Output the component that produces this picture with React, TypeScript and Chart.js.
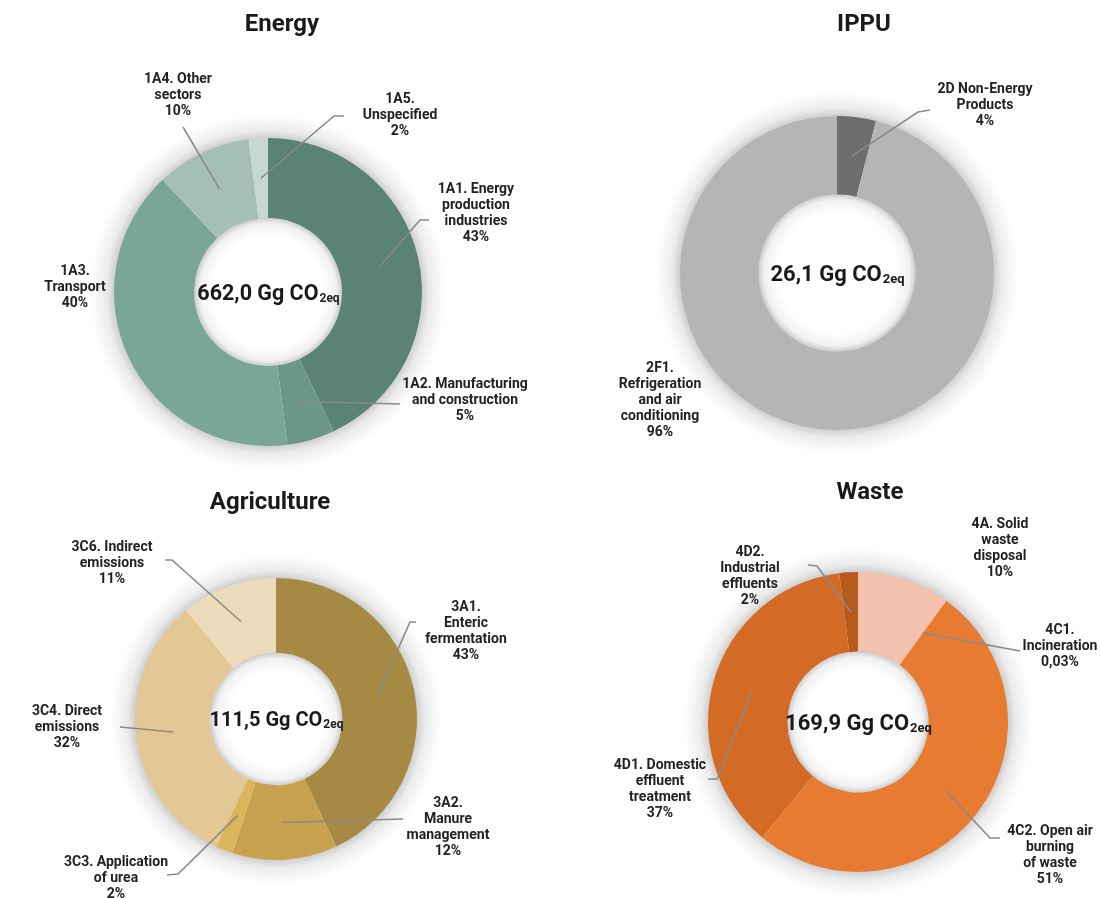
import React, { useEffect, useRef } from "react";
import { Chart, registerables } from "chart.js";
Chart.register(...registerables);

// ---------------- data ----------------
const energyCategories = ["1A1. Energy production industries", "1A2. Manufacturing and construction", "1A3. Transport", "1A4. Other sectors", "1A5. Unspecified"];
const energyValues = [43, 5, 40, 10, 2];
const energyTotal = 662.0;

const ippuCategories = ["2D Non-Energy Products", "2F1. Refrigeration and air conditioning"];
const ippuValues = [4, 96];
const ippuTotal = 26.1;

const agriCategories = ["3A1. Enteric fermentation", "3A2. Manure management", "3C3. Application of urea", "3C4. Direct emissions", "3C6. Indirect emissions"];
const agriValues = [43, 12, 2, 32, 11];
const agriTotal = 111.5;

const wasteCategories = ["4A. Solid waste disposal", "4C1. Incineration", "4C2. Open air burning of waste", "4D1. Domestic effluent treatment", "4D2. Industrial effluents"];
const wasteValues = [10, 0.03, 51, 37, 2];
const wasteTotal = 169.9;

// ---------------- presentation ----------------
const energyLines = [["1A1. Energy", "production", "industries"], ["1A2. Manufacturing", "and construction"], ["1A3.", "Transport"], ["1A4. Other", "sectors"], ["1A5.", "Unspecified"]];
const ippuLines = [["2D Non-Energy", "Products"], ["2F1.", "Refrigeration", "and air", "conditioning"]];
const agriLines = [["3A1.", "Enteric", "fermentation"], ["3A2.", "Manure", "management"], ["3C3. Application", "of urea"], ["3C4. Direct", "emissions"], ["3C6. Indirect", "emissions"]];
const wasteLines = [["4A. Solid", "waste", "disposal"], ["4C1.", "Incineration"], ["4C2. Open air", "burning", "of waste"], ["4D1. Domestic", "effluent", "treatment"], ["4D2.", "Industrial", "effluents"]];

const energyStyle = {
  title: "Energy", titleX: 282, titleY: 25, centerFont: 21.5,
  cx: 268, cy: 292, r: 154, cutout: "48%",
  colors: ["#5b8277", "#6b978a", "#79a698", "#a5bfb7", "#c6d8d2"],
  labelPos: [[476, 189], [465, 384], [75, 271], [178, 79], [400, 99]],
  leaders: [[[420, 220], [429, 220]], [[400, 404]], null, [[183, 127]], [[334, 116], [344, 116]]],
};
const ippuStyle = {
  title: "IPPU", titleX: 864, titleY: 25, centerFont: 22,
  cx: 837, cy: 273, r: 157, cutout: "50%",
  colors: ["#6d6d6d", "#b5b5b5"],
  labelPos: [[985, 89], [660, 368]],
  leaders: [[[918, 112], [930, 110]], null],
};
const agriStyle = {
  title: "Agriculture", titleX: 270, titleY: 503, centerFont: 20,
  cx: 276, cy: 719, r: 141, cutout: "47%",
  colors: ["#a68a44", "#c8a14f", "#d9b65a", "#e3c794", "#eddcbc"],
  labelPos: [[466, 607], [448, 803], [116, 862], [67, 711], [112, 547]],
  leaders: [[[410, 622], [416, 622]], [[403, 819]], [[178, 874], [167, 875]], [[120, 727]], [[172, 560], [165, 560]]],
};
const wasteStyle = {
  title: "Waste", titleX: 870, titleY: 493, centerFont: 22,
  cx: 858, cy: 722, r: 150, cutout: "47%",
  colors: ["#f3c2af", "#e57b35", "#e77b32", "#d46b25", "#b65a1d"],
  labelPos: [[1000, 524], [1060, 630], [1050, 831], [660, 765], [750, 552]],
  leaders: [null, [[1020, 651]], [[990, 838], [1000, 838]], [[717, 779], [708, 779]], [[817, 566], [808, 565]]],
};

const W = 1100;
const H = 898;
const FONT = "Roboto, 'Noto Sans', sans-serif";
const LINE_H = 16;
const TEXT_SY = 1.1;

const fmtPct = (v: number) => String(v).replace(".", ",") + "%";
const fmtTotal = (v: number) => v.toFixed(1).replace(".", ",");

function stretchedText(ctx: any, t: string, x: number, y: number) {
  ctx.save();
  ctx.translate(x, y);
  ctx.scale(1, TEXT_SY);
  ctx.fillText(t, 0, 0);
  ctx.restore();
}

function makeDeco(st: any, lines: string[][], values: number[], total: number) {
  return {
    id: "deco",
    beforeDatasetsDraw(chart: any) {
      const ctx = chart.ctx;
      const arc = chart.getDatasetMeta(0).data[0];
      const { x, y, outerRadius } = arc.getProps(["x", "y", "outerRadius"], true);
      const halo = 24;
      ctx.save();
      const g = ctx.createRadialGradient(x, y, outerRadius - 1, x, y, outerRadius + halo);
      g.addColorStop(0, "rgba(0,0,0,0.2)");
      g.addColorStop(0.35, "rgba(0,0,0,0.08)");
      g.addColorStop(1, "rgba(0,0,0,0)");
      ctx.beginPath();
      ctx.arc(x, y, outerRadius + halo, 0, Math.PI * 2, false);
      ctx.arc(x, y, outerRadius - 1, Math.PI * 2, 0, true);
      ctx.closePath();
      ctx.fillStyle = g;
      ctx.fill("evenodd");
      ctx.restore();
    },
    afterDatasetsDraw(chart: any) {
      const ctx = chart.ctx;
      const arcs = chart.getDatasetMeta(0).data;
      const { x, y, innerRadius } = arcs[0].getProps(["x", "y", "innerRadius"], true);
      // inner shadow of the hole
      ctx.save();
      const inner = Math.max(innerRadius - 18, 0);
      const g = ctx.createRadialGradient(x, y, inner, x, y, innerRadius);
      g.addColorStop(0, "rgba(0,0,0,0)");
      g.addColorStop(0.7, "rgba(0,0,0,0.06)");
      g.addColorStop(1, "rgba(0,0,0,0.2)");
      ctx.beginPath();
      ctx.arc(x, y, innerRadius, 0, Math.PI * 2, false);
      ctx.arc(x, y, inner, Math.PI * 2, 0, true);
      ctx.closePath();
      ctx.fillStyle = g;
      ctx.fill("evenodd");
      ctx.restore();

      // leader lines
      ctx.save();
      ctx.strokeStyle = "#8a8a8a";
      ctx.lineWidth = 1.6;
      st.leaders.forEach((pts: any, i: number) => {
        if (!pts) return;
        const c = arcs[i].getCenterPoint(true);
        ctx.beginPath();
        ctx.moveTo(c.x, c.y);
        pts.forEach((p: number[]) => ctx.lineTo(p[0], p[1]));
        ctx.stroke();
      });
      ctx.restore();

      // labels
      ctx.save();
      ctx.fillStyle = "#222222";
      ctx.font = `bold 14px ${FONT}`;
      ctx.textAlign = "center";
      ctx.textBaseline = "middle";
      lines.forEach((ls, i) => {
        const [lx, ly] = st.labelPos[i];
        const all = [...ls, fmtPct(values[i])];
        all.forEach((t, k) => stretchedText(ctx, t, lx, ly + k * LINE_H));
      });
      ctx.restore();

      // title
      ctx.save();
      ctx.fillStyle = "#1a1a1a";
      ctx.font = `bold 24px ${FONT}`;
      ctx.textAlign = "center";
      ctx.textBaseline = "middle";
      ctx.fillText(st.title, st.titleX, st.titleY);
      ctx.restore();

      // center total
      ctx.save();
      ctx.fillStyle = "#1a1a1a";
      const fs = st.centerFont;
      const main = `${fmtTotal(total)} Gg CO`;
      const sub = "2eq";
      ctx.font = `bold ${fs}px ${FONT}`;
      const w1 = ctx.measureText(main).width;
      ctx.font = `bold ${Math.round(fs * 0.58)}px ${FONT}`;
      const w2 = ctx.measureText(sub).width;
      const start = x - (w1 + w2) / 2;
      ctx.textBaseline = "alphabetic";
      ctx.textAlign = "left";
      ctx.font = `bold ${fs}px ${FONT}`;
      ctx.fillText(main, start, y + fs * 0.35);
      ctx.font = `bold ${Math.round(fs * 0.58)}px ${FONT}`;
      ctx.fillText(sub, start + w1 + 1, y + fs * 0.45);
      ctx.restore();
    },
  };
}

function Donut({ categories, values, total, st, lines }: any) {
  const ref = useRef<HTMLCanvasElement>(null);
  useEffect(() => {
    if (!ref.current) return;
    const chart = new Chart(ref.current, {
      type: "doughnut",
      data: {
        labels: categories,
        datasets: [{ data: values, backgroundColor: st.colors, borderWidth: 0, hoverOffset: 0 }],
      },
      options: {
        responsive: false,
        animation: false,
        events: [],
        cutout: st.cutout,
        layout: {
          padding: { left: st.cx - st.r, right: W - (st.cx + st.r), top: st.cy - st.r, bottom: H - (st.cy + st.r) },
        },
        plugins: { legend: { display: false }, tooltip: { enabled: false }, title: { display: false } },
      },
      plugins: [makeDeco(st, lines, values, total)],
    } as any);
    return () => chart.destroy();
  }, []);
  return <canvas ref={ref} width={W} height={H} style={{ position: "absolute", left: 0, top: 0, width: W, height: H }} />;
}

export default function App() {
  return (
    <div style={{ position: "absolute", left: 0, top: 0, width: W, height: H, background: "#ffffff", overflow: "hidden" }}>
      <Donut categories={energyCategories} values={energyValues} total={energyTotal} st={energyStyle} lines={energyLines} />
      <Donut categories={ippuCategories} values={ippuValues} total={ippuTotal} st={ippuStyle} lines={ippuLines} />
      <Donut categories={agriCategories} values={agriValues} total={agriTotal} st={agriStyle} lines={agriLines} />
      <Donut categories={wasteCategories} values={wasteValues} total={wasteTotal} st={wasteStyle} lines={wasteLines} />
    </div>
  );
}
